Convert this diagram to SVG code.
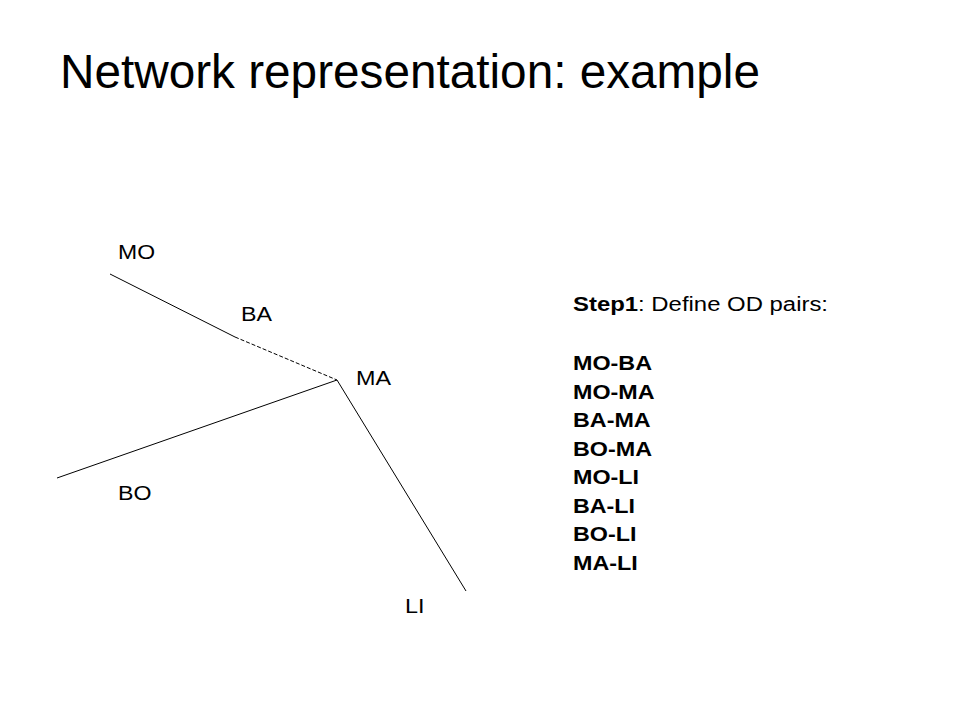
<svg xmlns="http://www.w3.org/2000/svg" width="960" height="720" viewBox="0 0 960 720">
<style>
text{font-family:"Liberation Sans",Arial,sans-serif;fill:#000}
.lbl{font-size:20px}
.od{font-size:20px;font-weight:bold}
.edge{stroke:#000;stroke-width:1;fill:none}
.dash{stroke-dasharray:4 2}
</style>
<rect width="960" height="720" fill="#fff"/>
<text x="60" y="88" font-size="48" textLength="700" lengthAdjust="spacingAndGlyphs">Network representation: example</text>
<g id="connectors">
<line class="edge" x1="110" y1="274" x2="235" y2="337"/>
<line class="edge dash" x1="235" y1="337" x2="337" y2="380"/>
<line class="edge" x1="57" y1="478" x2="337" y2="380"/>
<line class="edge" x1="337" y1="380" x2="466" y2="591"/>
</g>
<g id="node-MO"><text class="lbl" x="118" y="259" textLength="37" lengthAdjust="spacingAndGlyphs">MO</text></g>
<g id="node-BA"><text class="lbl" x="241" y="320.5" textLength="31" lengthAdjust="spacingAndGlyphs">BA</text></g>
<g id="node-MA"><text class="lbl" x="356" y="385" textLength="35" lengthAdjust="spacingAndGlyphs">MA</text></g>
<g id="node-BO"><text class="lbl" x="118" y="500" textLength="33.5" lengthAdjust="spacingAndGlyphs">BO</text></g>
<g id="node-LI"><text class="lbl" x="405" y="613" textLength="19.5" lengthAdjust="spacingAndGlyphs">LI</text></g>
<g id="od-list">
<text class="lbl" x="573" y="311" textLength="255" lengthAdjust="spacingAndGlyphs"><tspan font-weight="bold">Step1</tspan>: Define OD pairs:</text>
<text class="od" x="573" y="370" textLength="79" lengthAdjust="spacingAndGlyphs">MO-BA</text>
<text class="od" x="573" y="398.5" textLength="81.5" lengthAdjust="spacingAndGlyphs">MO-MA</text>
<text class="od" x="573" y="427" textLength="77.6" lengthAdjust="spacingAndGlyphs">BA-MA</text>
<text class="od" x="573" y="455.5" textLength="79" lengthAdjust="spacingAndGlyphs">BO-MA</text>
<text class="od" x="573" y="484" textLength="66" lengthAdjust="spacingAndGlyphs">MO-LI</text>
<text class="od" x="573" y="512.5" textLength="62" lengthAdjust="spacingAndGlyphs">BA-LI</text>
<text class="od" x="573" y="541" textLength="63.4" lengthAdjust="spacingAndGlyphs">BO-LI</text>
<text class="od" x="573" y="569.5" textLength="64.7" lengthAdjust="spacingAndGlyphs">MA-LI</text>
</g>
</svg>
